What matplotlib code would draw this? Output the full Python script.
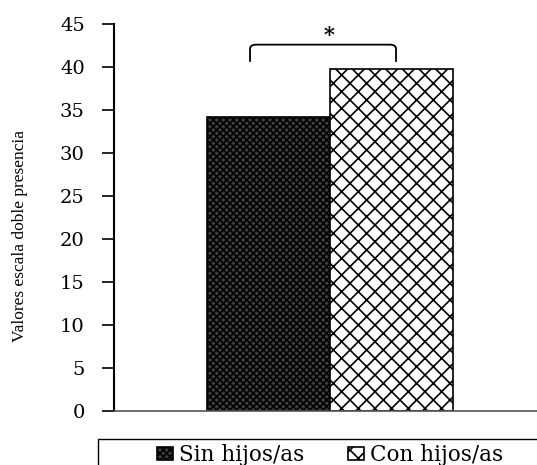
import matplotlib
matplotlib.use("Agg")
import matplotlib.pyplot as plt
from matplotlib.patches import Rectangle, PathPatch
from matplotlib.path import Path

plt.rcParams['font.family'] = ['Liberation Serif', 'DejaVu Serif']
plt.rcParams['hatch.linewidth'] = 1.2

groups = ["Sin hijos/as", "Con hijos/as"]
values = [34.2, 39.8]
y_ticks = [0, 5, 10, 15, 20, 25, 30, 35, 40, 45]
y_label = "Valores escala doble presencia"
signif = "*"

fig = plt.figure(figsize=(5.37, 4.65), dpi=100)
ax = fig.add_axes([114/537, 1 - 411/465, 1 - 114/537, (411 - 24)/465])

styles = [dict(facecolor="#404040", hatch="xxxxx"),
          dict(facecolor="white", hatch="xx")]
xpos = [0, 1]
bars = []
for x, v, s, lab in zip(xpos, values, styles, groups):
    b = ax.bar(x, v, width=1.0, edgecolor="black", linewidth=1.2,
               label=lab, **s)
    bars.append(b)

ax.set_xlim(-1.256, 2.183)
ax.set_ylim(0, 45)
ax.set_yticks(y_ticks)
ax.set_xticks([])
ax.tick_params(axis="y", direction="out", length=9, width=1.2,
               labelsize=14, pad=12)
for t in ax.get_yticklabels():
    t.set_family("DejaVu Serif")
for sp in ("top", "right"):
    ax.spines[sp].set_visible(False)
ax.spines["left"].set_linewidth(1.5)
ax.spines["bottom"].set_linewidth(1.2)
ax.spines["bottom"].set_color("#555555")

fig.text(20/537, 1 - 236/465, y_label, rotation=90, ha="center",
         va="center", fontsize=12.5)

# significance bracket
x1, x2 = -0.15, 1.037
y0, y1 = 40.6, 42.6
r = 0.05
verts = [(x1, y0), (x1, y1 - 0.5), (x1, y1), (x1 + r, y1),
         (x2 - r, y1), (x2, y1), (x2, y1 - 0.5), (x2, y0)]
codes = [Path.MOVETO, Path.LINETO, Path.CURVE3, Path.CURVE3,
         Path.LINETO, Path.CURVE3, Path.CURVE3, Path.LINETO]
ax.add_patch(PathPatch(Path(verts, codes), fill=False, lw=1.3,
                       edgecolor="black", clip_on=False))
ax.text(0.49, 43.7, signif, ha="center", va="center",
        fontsize=15, fontweight="bold", family="DejaVu Serif")

# legend with a box running off the bottom edge
fig.patches.append(Rectangle((98/537, -0.05), 1.0, 0.05 + 1 - 439/465,
                             transform=fig.transFigure, fill=False,
                             edgecolor="black", linewidth=1.0))
leg = fig.legend(handles=[b[0] for b in bars], labels=groups, ncol=2,
                 loc="center", bbox_to_anchor=(330/537, 1 - 455/465),
                 frameon=False, handlelength=0.75,
                 handleheight=0.6, handletextpad=0.3, columnspacing=2.0,
                 prop={"family": "DejaVu Serif", "size": 15.5})

fig.savefig("out.png", dpi=100)
